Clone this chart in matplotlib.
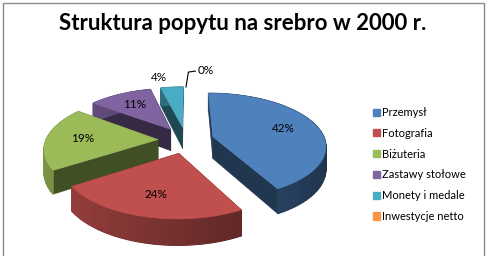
import numpy as np
import matplotlib.pyplot as plt
from matplotlib.patches import Polygon, Patch, Rectangle
import matplotlib.colors as mcolors

plt.rcParams['font.family'] = ['Lato', 'DejaVu Sans']

# data
title = "Struktura popytu na srebro w 2000 r."
categories = ["Przemysł", "Fotografia", "Biżuteria", "Zastawy stołowe",
              "Monety i medale", "Inwestycje netto"]
shares = [42, 24, 19, 11, 4, 0]
colors = ["#4F81BD", "#C0504D", "#9BBB59", "#8064A2", "#4BACC6", "#F79646"]

# pie geometry (pixels)
CX, CY = 186, 140
RX, RY = 112, 53
PERSP = 0.16
DEPTH = 22
EXPLODE = 0.25


def proj(X, Y, Z=0.0):
    s = 1 - PERSP * Y
    return (CX + X * RX * s, CY - Y * RY * s + Z * DEPTH * s)


def shade(c, f):
    r, g, b = mcolors.to_rgb(c)
    return (r * f, g * f, b * f)


fig = plt.figure(figsize=(4.86, 2.56), dpi=100)
ax = fig.add_axes([0, 0, 1, 1])
ax.set_xlim(0, 486)
ax.set_ylim(256, 0)
ax.axis('off')

fig.patches.append(Rectangle((2.5 / 486, -0.1), 481 / 486, (253.5 / 256) + 0.1,
                             transform=fig.transFigure, fill=False,
                             edgecolor='#8c8c8c', linewidth=1.0))

ax.text(243, 23, title, ha='center', va='center', fontsize=16,
        fontweight='bold', color='#000000')

total = float(sum(shares))
angles = [90.0]
for v in shares:
    angles.append(angles[-1] - 360.0 * v / total)

wedges = []
for i, v in enumerate(shares):
    a0, a1 = np.radians(angles[i]), np.radians(angles[i + 1])
    m = (a0 + a1) / 2
    ex, ey = EXPLODE * np.cos(m), EXPLODE * np.sin(m)
    wedges.append((i, v, a0, a1, m, ex, ey))

# draw back to front
for i, v, a0, a1, m, ex, ey in sorted(wedges, key=lambda w: -w[6]):
    if v == 0:
        continue
    n = max(int(abs(a0 - a1) / np.radians(2)), 2)
    ts = np.linspace(a0, a1, n)
    pts = [(ex, ey, None)] + [(ex + np.cos(t), ey + np.sin(t), t) for t in ts]
    top = [proj(p[0], p[1]) for p in pts]
    bot = [proj(p[0], p[1], 1) for p in pts]
    k = len(pts)
    # radial faces first
    for j in [0, k - 1]:
        jn = (j + 1) % k
        quad = [top[j], top[jn], bot[jn], bot[j]]
        c = shade(colors[i], 0.42)
        ax.add_patch(Polygon(quad, closed=True, facecolor=c, edgecolor=c, lw=0.4))
    # outer arc: one base band, then shaded strips on top of it
    band = top[1:] + bot[1:][::-1]
    c = shade(colors[i], 0.6)
    ax.add_patch(Polygon(band, closed=True, facecolor=c, edgecolor=c, lw=0.4))
    for j in range(1, k - 1):
        t = (pts[j][2] + pts[j + 1][2]) / 2
        f = 0.6 - 0.2 * np.cos(t)
        c = shade(colors[i], f)
        quad = [top[j], top[j + 1], bot[j + 1], bot[j]]
        ax.add_patch(Polygon(quad, closed=True, facecolor=c, edgecolor=c, lw=0.9))
    ax.add_patch(Polygon(top, closed=True, facecolor=colors[i],
                         edgecolor=colors[i], lw=0.4))

# data labels
for i, v, a0, a1, m, ex, ey in wedges:
    lab = f"{v}%"
    if v >= 5:
        r = 0.68
        x, y = proj(ex + r * np.cos(m), ey + r * np.sin(m))
        ax.text(x, y, lab, ha='center', va='center', fontsize=8.5, color='#000000')
    elif v > 0:
        r = 1.35
        x, y = proj(ex + r * np.cos(m) - 0.12, ey + r * np.sin(m))
        ax.text(x, y, lab, ha='center', va='center', fontsize=8.5, color='#000000')
    else:
        p1 = proj(ex + np.cos(m), ey + np.sin(m))
        p2 = proj(ex + 1.55 * np.cos(m) + 0.03, ey + 1.55 * np.sin(m))
        p3 = (p2[0] + 7, p2[1] - 1)
        ax.plot([p1[0], p2[0], p3[0]], [p1[1], p2[1], p3[1]], color='#000000', lw=0.8)
        ax.text(p3[0] + 2, p3[1] - 1, lab, ha='left', va='center', fontsize=8.5,
                color='#000000')

handles = [Patch(facecolor=c, edgecolor=c) for c in colors]
ax.legend(handles, categories, loc='upper left',
          bbox_to_anchor=(373 / 486, 1 - 107 / 256), frameon=False,
          fontsize=8, handlelength=0.6, handleheight=0.6,
          handletextpad=0.25, labelspacing=0.88, borderpad=0, borderaxespad=0)

fig.savefig('out.png', dpi=100)
